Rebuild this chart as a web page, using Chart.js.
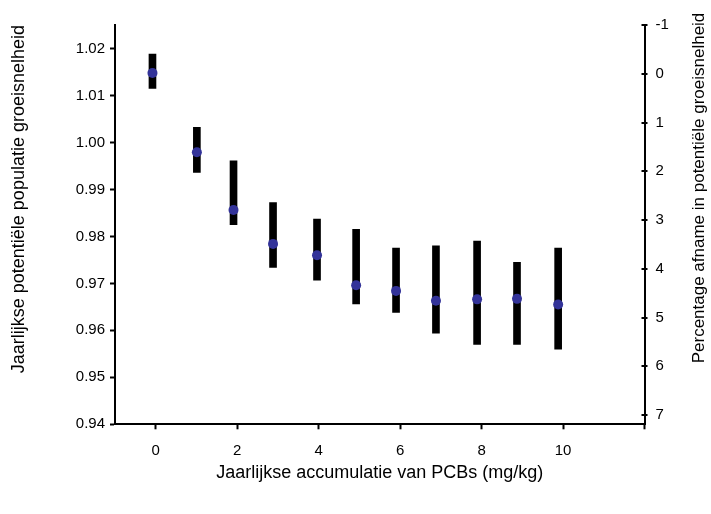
<!DOCTYPE html>
<html>
<head>
<meta charset="utf-8">
<script src="https://cdn.jsdelivr.net/npm/chart.js@4.4.1/dist/chart.umd.min.js"></script>
<style>
  body { margin: 0; background: #fff; }
  #wrap { width: 711px; height: 514px; }
</style>
</head>
<body>
<div id="wrap"><canvas id="chart"></canvas></div>
<script>
// PCB accumulation (mg/kg)
const pcb = [-0.08, 1.01, 1.91, 2.88, 3.96, 4.92, 5.9, 6.88, 7.89, 8.87, 9.88];
// mean annual potential growth rate
const growth = [1.0148, 0.9979, 0.9856, 0.9784, 0.9760, 0.9696, 0.9684, 0.9663, 0.9666, 0.9667, 0.9655];
// range bars (low / high)
const growthLow = [1.0115, 0.9936, 0.9825, 0.9734, 0.9707, 0.9656, 0.9638, 0.9594, 0.9570, 0.9570, 0.9560];
const growthHigh = [1.0188, 1.0032, 0.9961, 0.9872, 0.9837, 0.9815, 0.9775, 0.9780, 0.9790, 0.9745, 0.9775];

const xTicks = [0, 2, 4, 6, 8, 10, 12];
const leftTicks = [0.94, 0.95, 0.96, 0.97, 0.98, 0.99, 1.00, 1.01, 1.02];
const rightTicks = [-1, 0, 1, 2, 3, 4, 5, 6, 7];

const xTitle = 'Jaarlijkse accumulatie van PCBs (mg/kg)';
const leftTitle = 'Jaarlijkse potentiële populatie groeisnelheid';
const rightTitle = 'Percentage afname in potentiële groeisnelheid';

const FONT = '"Liberation Sans", Arial, sans-serif';

// right axis: ticks crossing the line, title reading upwards
const rightAxisExtras = {
    id: 'rightAxisExtras',
    afterDraw(chart) {
        const s = chart.scales.y2;
        const ctx = chart.ctx;
        ctx.save();
        ctx.strokeStyle = '#000';
        ctx.lineWidth = 2;
        s.ticks.forEach(t => {
            const py = Math.round(s.getPixelForValue(t.value));
            ctx.beginPath();
            ctx.moveTo(s.left - 3, py);
            ctx.lineTo(s.left + 3, py);
            ctx.stroke();
        });
        ctx.translate(699, 188);
        ctx.rotate(-Math.PI / 2);
        ctx.font = '17px ' + FONT;
        ctx.fillStyle = '#000';
        ctx.textAlign = 'center';
        ctx.textBaseline = 'middle';
        ctx.fillText(rightTitle, 0, 0);
        ctx.restore();
    }
};

new Chart(document.getElementById('chart').getContext('2d'), {
    type: 'bar',
    data: {
        datasets: [
            {
                type: 'scatter',
                data: pcb.map((x, i) => ({ x: x, y: growth[i] })),
                backgroundColor: '#333399',
                borderWidth: 0,
                pointRadius: 5,
                yAxisID: 'y',
                order: 0
            },
            {
                type: 'bar',
                data: pcb.map((x, i) => ({ x: x, y: [growthLow[i], growthHigh[i]] })),
                backgroundColor: '#000',
                borderWidth: 0,
                barThickness: 7,
                yAxisID: 'y',
                order: 1
            }
        ]
    },
    options: {
        responsive: true,
        maintainAspectRatio: false,
        animation: false,
        layout: { padding: { top: 25, left: 0, right: 0, bottom: 0 } },
        plugins: {
            legend: { display: false },
            tooltip: { enabled: false }
        },
        scales: {
            x: {
                type: 'linear',
                min: -1,
                max: 12,
                offset: false,
                afterBuildTicks: s => { s.ticks = xTicks.map(v => ({ value: v })); },
                afterFit: s => { s.height = 89.7; },
                ticks: {
                    color: '#000',
                    font: { family: FONT, size: 15 },
                    padding: 13,
                    callback: v => (v === 12 ? '' : v)
                },
                grid: { offset: false, drawOnChartArea: false, drawTicks: true, tickLength: 5, tickWidth: 2, color: '#000' },
                border: { display: true, color: '#000', width: 2 },
                title: {
                    display: true,
                    text: xTitle,
                    color: '#000',
                    font: { family: FONT, size: 18 },
                    padding: { top: 0, bottom: 30 }
                }
            },
            y: {
                position: 'left',
                min: 0.94,
                max: 1.025,
                afterBuildTicks: s => { s.ticks = leftTicks.map(v => ({ value: v })); },
                afterFit: s => { s.width = 115; },
                ticks: {
                    color: '#000',
                    font: { family: FONT, size: 15 },
                    padding: 5,
                    callback: v => v.toFixed(2)
                },
                grid: { drawOnChartArea: false, drawTicks: true, tickLength: 5, tickWidth: 2, color: '#000' },
                border: { display: true, color: '#000', width: 2 },
                title: {
                    display: true,
                    text: leftTitle,
                    align: 'end',
                    color: '#000',
                    font: { family: FONT, size: 18 },
                    padding: { top: 8, bottom: 0 }
                }
            },
            y2: {
                position: 'right',
                reverse: true,
                min: -1,
                max: 7.19,
                afterBuildTicks: s => { s.ticks = rightTicks.map(v => ({ value: v })); },
                afterFit: s => { s.width = 66.5; },
                ticks: {
                    color: '#000',
                    font: { family: FONT, size: 15 },
                    padding: 11
                },
                grid: { drawOnChartArea: false, drawTicks: false },
                border: { display: true, color: '#000', width: 2 }
            }
        }
    },
    plugins: [rightAxisExtras]
});
</script>
</body>
</html>
